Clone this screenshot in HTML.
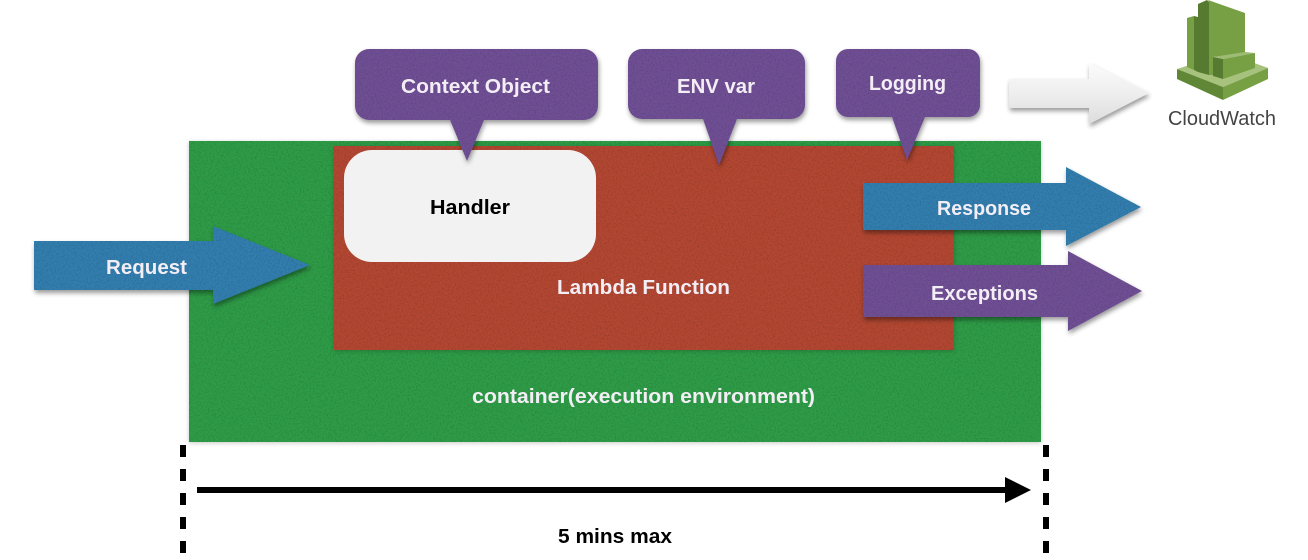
<!DOCTYPE html>
<html><head><meta charset="utf-8"><style>
html,body{margin:0;padding:0;background:#fff;width:1308px;height:560px;overflow:hidden}
svg{display:block}
text{font-family:"Liberation Sans",sans-serif;font-weight:700;font-size:20px;fill:#f3eef5;text-anchor:start}
</style></head><body>
<svg width="1308" height="560" viewBox="0 0 1308 560" xmlns="http://www.w3.org/2000/svg">
<defs>
<filter id="s" x="-10%" y="-10%" width="120%" height="125%"><feDropShadow dx="1" dy="3" stdDeviation="2.5" flood-color="#000" flood-opacity=".4"/></filter>
<filter id="s2" x="-5%" y="-5%" width="110%" height="110%"><feDropShadow dx="0" dy="1" stdDeviation="2.5" flood-color="#000" flood-opacity=".22"/></filter>
<filter id="n" x="0" y="0" width="100%" height="100%"><feTurbulence type="fractalNoise" baseFrequency=".6" numOctaves="2" seed="4"/><feColorMatrix values="0 0 0 0 0  0 0 0 0 0  0 0 0 0 0  .22 .22 0 0 -.19"/><feComposite in2="SourceAlpha" operator="in"/></filter>
<linearGradient id="g" x1="0" y1="0" x2="0" y2="1"><stop offset="0" stop-color="#fbfbfb"/><stop offset=".5" stop-color="#eeeeee"/><stop offset="1" stop-color="#dcdcdc"/></linearGradient>
<path id="ctx" d="M369 49H584a14 14 0 0 1 14 14V106a14 14 0 0 1-14 14H484L467 161 450 120H369a14 14 0 0 1-14-14V63a14 14 0 0 1 14-14Z"/>
<path id="env" d="M642 49H791a14 14 0 0 1 14 14V105a14 14 0 0 1-14 14H737L719 165 703 119H642a14 14 0 0 1-14-14V63a14 14 0 0 1 14-14Z"/>
<path id="log" d="M848 49H968a12 12 0 0 1 12 12V105a12 12 0 0 1-12 12H925L907 160 892 117H848a12 12 0 0 1-12-12V61a12 12 0 0 1 12-12Z"/>
<path id="req" d="M34 241H213V226L310 265 213 304V290H34Z"/>
<path id="res" d="M863 183H1066V167L1141 207 1066 246V230H863Z"/>
<path id="exc" d="M863 265H1068V251L1142 291 1068 331V317H863Z"/>
</defs>

<!-- container -->
<rect x="189" y="141" width="852" height="301" fill="#2f9c47" filter="url(#s2)"/>
<rect x="189" y="141" width="852" height="301" fill="#000" filter="url(#n)"/>
<!-- lambda -->
<rect x="334" y="146" width="620" height="204" fill="#b34733" filter="url(#s2)"/>
<rect x="334" y="146" width="620" height="204" fill="#000" filter="url(#n)"/>
<!-- handler -->
<rect x="344" y="150" width="252" height="112" rx="28" fill="#f2f2f2"/>

<!-- bubbles -->
<g fill="#704f95">
<use href="#ctx" filter="url(#s)"/><use href="#env" filter="url(#s)"/><use href="#log" filter="url(#s)"/>
</g>
<use href="#ctx" fill="#000" filter="url(#n)"/><use href="#env" fill="#000" filter="url(#n)"/><use href="#log" fill="#000" filter="url(#n)"/>

<!-- arrows -->
<use href="#req" fill="#307eaf" filter="url(#s)"/><use href="#req" fill="#000" filter="url(#n)"/>
<use href="#res" fill="#307eaf" filter="url(#s)"/><use href="#res" fill="#000" filter="url(#n)"/>
<use href="#exc" fill="#704f95" filter="url(#s)"/><use href="#exc" fill="#000" filter="url(#n)"/>
<path d="M1009 79H1089V63L1149 93 1089 124V108H1009Z" fill="url(#g)" filter="url(#s)"/>

<!-- CloudWatch icon -->
<path d="M1177 69L1199 62 1246 60 1268 68 1223 87Z" fill="#a6c27c"/>
<path d="M1177 69L1223 87V100L1177 79Z" fill="#5f8736"/>
<path d="M1223 87L1268 68V79L1223 100Z" fill="#76a043"/>
<path d="M1187 18L1194 16V70L1187 67Z" fill="#76a043"/>
<path d="M1194 16L1198 17V72L1194 70Z" fill="#557a30"/>
<path d="M1198 4L1207 0 1209 2V75L1198 72Z" fill="#557a30"/>
<path d="M1208 0L1245 13V53L1213 57V75H1209V2Z" fill="#76a043"/>
<path d="M1213 57L1245 52 1255 53 1223 59Z" fill="#9dbb72"/>
<path d="M1213 57L1223 59V79L1213 76Z" fill="#557a30"/>
<path d="M1223 59L1255 53V68L1223 79Z" fill="#76a043"/>
<text x="1168" y="125" textLength="108" lengthAdjust="spacingAndGlyphs" style="font-weight:400;fill:#444">CloudWatch</text>

<!-- time -->
<path d="M183 445V556M1046 445V556" stroke="#000" stroke-width="6" stroke-dasharray="12 12" fill="none"/>
<path d="M197 487H1005V477L1031 490 1005 503V493H197Z" fill="#000"/>

<!-- labels -->
<text x="401" y="93" textLength="149" lengthAdjust="spacingAndGlyphs">Context Object</text>
<text x="677" y="93" textLength="78" lengthAdjust="spacingAndGlyphs">ENV var</text>
<text x="869" y="90" textLength="77" lengthAdjust="spacingAndGlyphs">Logging</text>
<text x="430" y="214" textLength="80" lengthAdjust="spacingAndGlyphs" style="fill:#000">Handler</text>
<text x="557" y="294" textLength="173" lengthAdjust="spacingAndGlyphs">Lambda Function</text>
<text x="472" y="403" textLength="343" lengthAdjust="spacingAndGlyphs">container(execution environment)</text>
<text x="106" y="274" textLength="81" lengthAdjust="spacingAndGlyphs">Request</text>
<text x="937" y="215" textLength="94" lengthAdjust="spacingAndGlyphs">Response</text>
<text x="931" y="300" textLength="107" lengthAdjust="spacingAndGlyphs">Exceptions</text>
<text x="558" y="543" textLength="114" lengthAdjust="spacingAndGlyphs" style="fill:#000">5 mins max</text>
</svg>
</body></html>
